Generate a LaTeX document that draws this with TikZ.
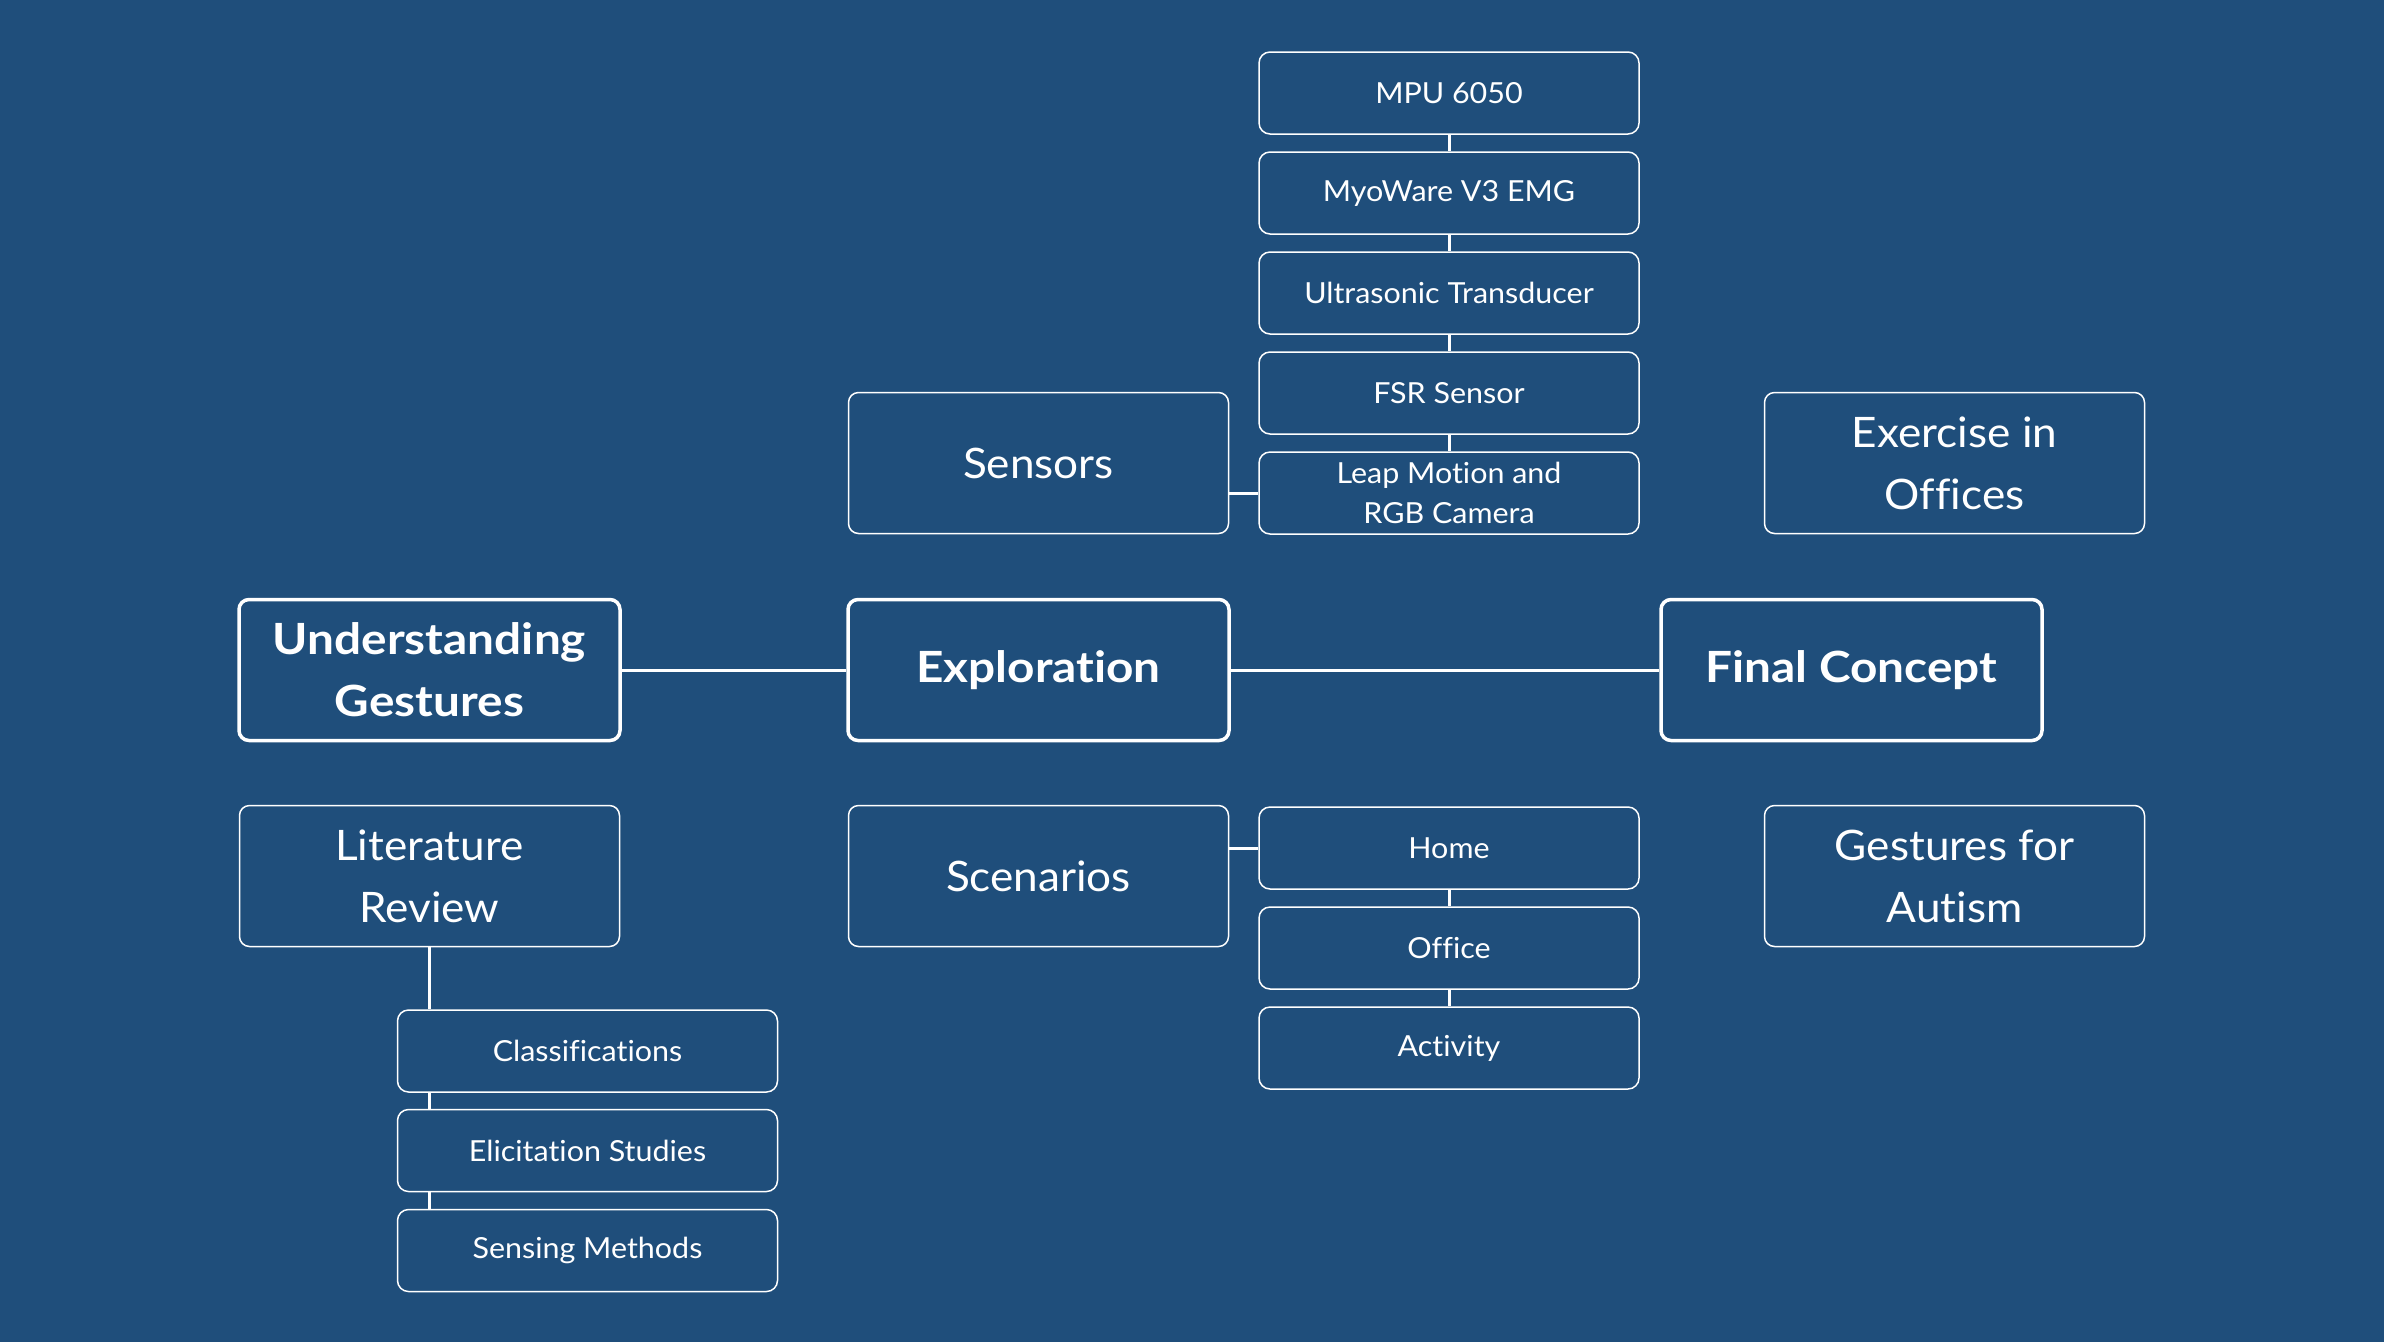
\documentclass[tikz,border=0pt]{standalone}
\usepackage{fontspec}
\setmainfont{Lato}[Ligatures=NoCommon, FakeStretch=1.05, BoldFeatures={FakeStretch=1.11}]
\definecolor{bg}{HTML}{1F4E7B}
\begin{document}
\begin{tikzpicture}[x=1pt,y=-1pt,
  mainbox/.style={draw=white, line width=3.5pt, rounded corners=10pt, minimum width=381pt, minimum height=141pt, inner sep=0pt, align=center, text=white, font=\fontsize{43}{62}\selectfont\bfseries},
  bigbox/.style={draw=white, line width=1.5pt, rounded corners=10pt, minimum width=380pt, minimum height=141pt, inner sep=0pt, align=center, text=white, font=\fontsize{42}{62}\selectfont},
  smallbox/.style={draw=white, line width=1.5pt, rounded corners=11pt, minimum width=380pt, minimum height=82pt, inner sep=0pt, align=center, text=white, font=\fontsize{29}{40}\selectfont},
  conn/.style={draw=white, line width=3pt}]
\fill[bg] (0,0) rectangle (2384,1342);
\useasboundingbox (0,0) rectangle (2384,1342);
% main row
\node[mainbox] (ug) at (429.5,670) {Understanding\\Gestures};
\node[mainbox] (expl) at (1038.5,670) {Exploration};
\node[mainbox] (fc) at (1851.5,670) {Final Concept};
% upper row
\node[bigbox] (sens) at (1038.5,463) {Sensors};
\node[bigbox] (exo) at (1954.5,463) {Exercise in\\Offices};
% lower row
\node[bigbox] (lit) at (429.5,876) {Literature\\Review};
\node[bigbox] (scen) at (1038.5,876) {Scenarios};
\node[bigbox] (gfa) at (1954.5,876) {Gestures for\\Autism};
% sensor stack
\node[smallbox] (mpu) at (1449,93) {MPU 6050};
\node[smallbox] (myo) at (1449,193) {MyoWare V3 EMG};
\node[smallbox] (ultra) at (1449,293) {Ultrasonic Transducer};
\node[smallbox] (fsr) at (1449,393) {FSR Sensor};
\node[smallbox] (leap) at (1449,493) {Leap Motion and\\RGB Camera};
% scenario stack
\node[smallbox] (home) at (1449,848) {Home};
\node[smallbox] (office) at (1449,948) {Office};
\node[smallbox] (act) at (1449,1048) {Activity};
% literature stack
\node[smallbox] (cls) at (587.5,1051) {Classifications};
\node[smallbox] (eli) at (587.5,1150.5) {Elicitation Studies};
\node[smallbox] (smeth) at (587.5,1250.5) {Sensing Methods};
% connectors
\draw[conn] (ug.east) -- (expl.west);
\draw[conn] (expl.east) -- (fc.west);
\draw[conn] (sens.east |- leap.west) -- (leap.west);
\draw[conn] (mpu.south) -- (myo.north);
\draw[conn] (myo.south) -- (ultra.north);
\draw[conn] (ultra.south) -- (fsr.north);
\draw[conn] (fsr.south) -- (leap.north);
\draw[conn] (scen.east |- home.west) -- (home.west);
\draw[conn] (home.south) -- (office.north);
\draw[conn] (office.south) -- (act.north);
\draw[conn] (lit.south) -- (lit.south |- cls.north);
\draw[conn] (cls.south -| lit.south) -- (eli.north -| lit.south);
\draw[conn] (eli.south -| lit.south) -- (smeth.north -| lit.south);
\end{tikzpicture}
\end{document}
